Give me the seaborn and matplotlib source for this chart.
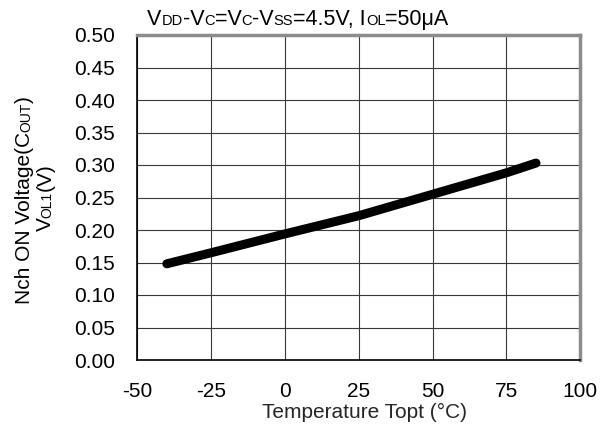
import matplotlib
matplotlib.use("Agg")
import matplotlib.pyplot as plt
import matplotlib.transforms as mtransforms
import numpy as np
import pandas as pd
import seaborn as sns

# ---- data ----
temperature = [-40, -25, 0, 25, 50, 75, 85]
voltage = [0.148, 0.165, 0.194, 0.222, 0.255, 0.288, 0.303]
x_ticks = [-50, -25, 0, 25, 50, 75, 100]
y_ticks = [0.00, 0.05, 0.10, 0.15, 0.20, 0.25, 0.30, 0.35, 0.40, 0.45, 0.50]

sns.set_theme(style="white")
plt.rcParams["font.family"] = ["Liberation Sans", "DejaVu Sans"]

FS = 15
FSS = 10
FT = 15.5
FTS = 10.5

fig = plt.figure(figsize=(6.13, 4.28), dpi=100)
ax = fig.add_axes([137.3 / 613, 1 - 360 / 428, 443 / 613, 325 / 428])

df = pd.DataFrame({"T": temperature, "V": voltage})
sns.lineplot(data=df, x="T", y="V", ax=ax, color="black", linewidth=6.5,
             solid_capstyle="round", zorder=3)

ax.set_xlim(-50, 100)
ax.set_ylim(0, 0.5)
ax.set_xticks(x_ticks)
ax.set_xticklabels([f"{v:d}" for v in x_ticks])
ax.set_yticks(y_ticks)
ax.set_yticklabels([f"{v:.2f}" for v in y_ticks])
ax.tick_params(axis="both", length=0, labelsize=FS, colors="black")
ax.tick_params(axis="x", pad=16)
ax.tick_params(axis="y", pad=16)
ax.grid(True, color="#383838", linewidth=0.8)
ax.set_axisbelow(True)
ax.set_xlabel("")
ax.set_ylabel("")
for s in ["left", "bottom"]:
    ax.spines[s].set_color("black")
    ax.spines[s].set_linewidth(1.2)
for s in ["top", "right"]:
    ax.spines[s].set_color("#8c8c8c")
    ax.spines[s].set_linewidth(2.5)

fig.canvas.draw()
renderer = fig.canvas.get_renderer()


def rich_text(x_px, y_px, pieces, rotation=0, align="left"):
    widths = []
    for s, size in pieces:
        t = fig.text(0, 0, s, fontsize=size)
        widths.append(t.get_window_extent(renderer).width)
        t.remove()
    total = sum(widths)
    off = -total / 2 if align == "center" else 0.0
    for (s, size), w in zip(pieces, widths):
        if rotation == 90:
            dx, dy = 0.0, off
        else:
            dx, dy = off, 0.0
        tr = mtransforms.Affine2D().translate(x_px + dx, y_px + dy)
        fig.text(0, 0, s, fontsize=size, rotation=rotation,
                 rotation_mode="anchor", ha="left", va="baseline",
                 transform=tr, color="black")
        off += w


H = 428
# title
rich_text(147, H - 25,
          [("V", FT), ("DD", FTS), ("-V", FT), ("C", FTS), ("=V", FT), ("C", FTS),
           ("-V", FT), ("SS", FTS), ("=4.5V, I", FT), ("OL", FTS), ("=50μA", FT)])
# y label (two lines)
rich_text(30, H - 200,
          [("Nch ON Voltage(C", FS), ("OUT", FSS), (")", FS)],
          rotation=90, align="center")
rich_text(51, H - 197.5,
          [("V", FS), ("OL1", FSS), ("(V)", FS)],
          rotation=90, align="center")
# x label
fig.text(365 / 613, 1 - 418 / 428, "Temperature Topt (°C)", fontsize=FS,
         ha="center", va="baseline")

fig.savefig("out.png", dpi=100)
